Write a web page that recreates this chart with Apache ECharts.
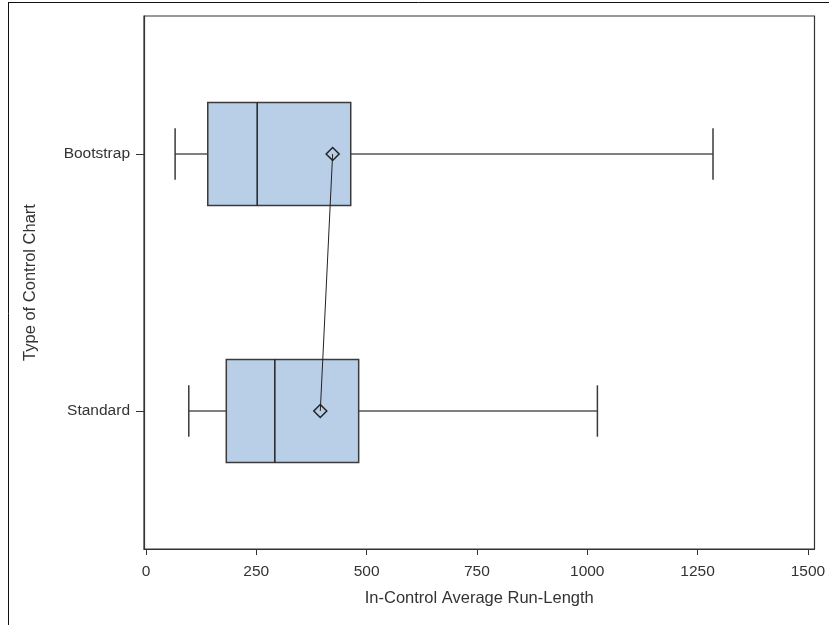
<!DOCTYPE html>
<html>
<head>
<meta charset="utf-8">
<script src="https://cdn.jsdelivr.net/npm/echarts@6/dist/echarts.min.js"></script>
<style>
  html, body { margin: 0; padding: 0; background: #fff; }
  #chart { width: 829px; height: 625px; }
</style>
</head>
<body>
<div id="chart"></div>
<script>
// Run-length distributions per control chart type
const categories = ['Standard', 'Bootstrap'];
const whiskerLow = [97, 66];
const q1 = [182, 140];
const median = [292, 252];
const q3 = [482, 464];
const whiskerHigh = [1023, 1285];
const mean = [395, 423];
const xTicks = [0, 250, 500, 750, 1000, 1250, 1500];

const boxData = categories.map((c, i) => [i, whiskerLow[i], q1[i], median[i], q3[i], whiskerHigh[i]]);
const meanData = categories.map((c, i) => [mean[i], i]);

const FONT = '"Liberation Sans", Arial, sans-serif';
const TEXT = '#333333';

const chart = echarts.init(document.getElementById('chart'), null, { renderer: 'canvas' });

function renderBox(params, api) {
  const c = api.value(0);
  const unit = api.size([0, 1])[1];
  const half = unit * 0.2;
  const capHalf = unit * 0.1;
  const pLow = api.coord([api.value(1), c]);
  const pQ1 = api.coord([api.value(2), c]);
  const pMed = api.coord([api.value(3), c]);
  const pQ3 = api.coord([api.value(4), c]);
  const pHigh = api.coord([api.value(5), c]);
  const y = pMed[1];
  const whisker = { stroke: '#555555', lineWidth: 1.5 };
  const edge = { stroke: '#3a3a3a', lineWidth: 1.5 };
  return {
    type: 'group',
    children: [
      { type: 'line', shape: { x1: pLow[0], y1: y, x2: pQ1[0], y2: y }, style: whisker },
      { type: 'line', shape: { x1: pQ3[0], y1: y, x2: pHigh[0], y2: y }, style: whisker },
      { type: 'line', shape: { x1: pLow[0], y1: y - capHalf, x2: pLow[0], y2: y + capHalf }, style: edge },
      { type: 'line', shape: { x1: pHigh[0], y1: y - capHalf, x2: pHigh[0], y2: y + capHalf }, style: edge },
      { type: 'rect', shape: { x: pQ1[0], y: y - half, width: pQ3[0] - pQ1[0], height: half * 2 },
        style: { fill: '#b9cfe7', stroke: '#3a3a3a', lineWidth: 1.5 } },
      { type: 'line', shape: { x1: pMed[0], y1: y - half, x2: pMed[0], y2: y + half }, style: { stroke: '#222222', lineWidth: 1.5 } }
    ]
  };
}

chart.setOption({
  animation: false,
  backgroundColor: '#ffffff',
  grid: {
    left: 144, right: 14.5, top: 16, bottom: 76,
    show: true, borderColor: '#333333', borderWidth: 1.2, backgroundColor: 'transparent'
  },
  xAxis: {
    type: 'value',
    min: -4.5,
    max: 1515,
    name: 'In-Control Average Run-Length',
    nameLocation: 'middle',
    nameGap: 41,
    nameTextStyle: { fontFamily: FONT, fontSize: 16.5, color: TEXT },
    axisLine: { show: true, onZero: false, lineStyle: { color: '#333333', width: 1.2 } },
    axisTick: { show: true, customValues: xTicks, length: 6, lineStyle: { color: '#333333' } },
    axisLabel: {
      customValues: xTicks, margin: 15, fontFamily: FONT, fontSize: 15.5, color: TEXT,
      formatter: v => String(Math.round(v))
    },
    splitLine: { show: false }
  },
  yAxis: {
    type: 'value',
    min: -0.537,
    max: 1.537,
    name: 'Type of Control Chart',
    nameLocation: 'middle',
    nameGap: 105,
    nameTextStyle: { fontFamily: FONT, fontSize: 16.5, color: TEXT },
    axisLine: { show: true, onZero: false, lineStyle: { color: '#333333', width: 1.2 } },
    axisTick: { show: true, customValues: [0, 1], length: 8, lineStyle: { color: '#333333' } },
    axisLabel: {
      customValues: [0, 1],
      margin: 14,
      fontFamily: FONT, fontSize: 15.5, color: TEXT,
      formatter: v => categories[Math.round(v)]
    },
    splitLine: { show: false }
  },
  graphic: [
    { type: 'line', shape: { x1: 8.5, y1: 2, x2: 8.5, y2: 625 }, style: { stroke: '#111111', lineWidth: 1 } },
    { type: 'line', shape: { x1: 8, y1: 2.5, x2: 829, y2: 2.5 }, style: { stroke: '#111111', lineWidth: 1 } }
  ],
  series: [
    {
      type: 'custom',
      renderItem: renderBox,
      encode: { x: [1, 2, 3, 4, 5], y: 0 },
      data: boxData,
      z: 2
    },
    {
      type: 'line',
      data: meanData,
      symbol: 'diamond',
      symbolSize: [13, 13],
      showSymbol: true,
      lineStyle: { color: '#222222', width: 1 },
      itemStyle: { color: 'rgba(0,0,0,0)', borderColor: '#222222', borderWidth: 1.5 },
      z: 3
    }
  ]
});
</script>
</body>
</html>
